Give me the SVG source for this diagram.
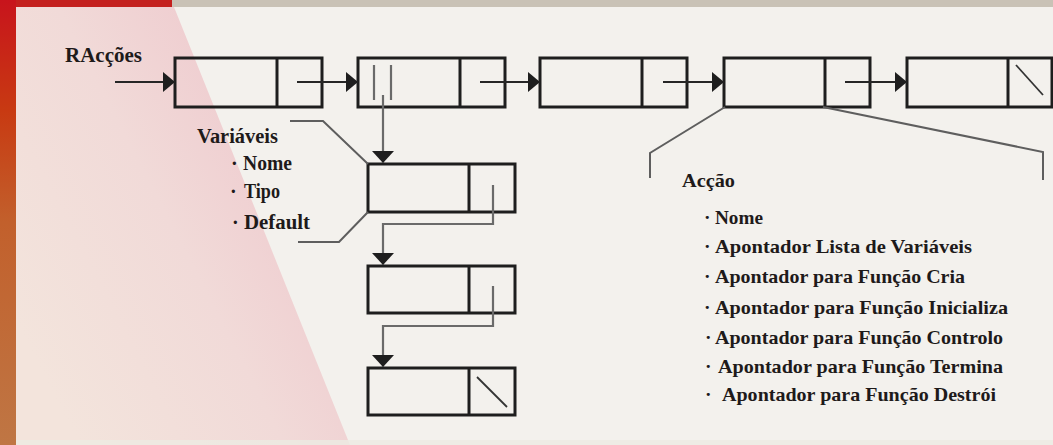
<svg xmlns="http://www.w3.org/2000/svg" width="1053" height="445" viewBox="0 0 1053 445">
  <defs>
    <linearGradient id="sideBar" x1="0" y1="0" x2="0" y2="1">
      <stop offset="0" stop-color="#c8141c"/>
      <stop offset="0.25" stop-color="#c83a12"/>
      <stop offset="0.5" stop-color="#c2602c"/>
      <stop offset="1" stop-color="#bf7644"/>
    </linearGradient>
    <linearGradient id="pinkWedge" gradientUnits="userSpaceOnUse" x1="20" y1="330" x2="290" y2="190">
      <stop offset="0" stop-color="#f3e4dc"/>
      <stop offset="0.6" stop-color="#f1dad8"/>
      <stop offset="1" stop-color="#efcdd0"/>
    </linearGradient>
    <marker id="head" viewBox="0 0 12 20" refX="12" refY="10" markerWidth="12" markerHeight="20" markerUnits="userSpaceOnUse" orient="auto">
      <path d="M0,0 L12,10 L0,20 Z" fill="#1e1e1e"/>
    </marker>
    <marker id="headDown" viewBox="0 0 12 22" refX="12" refY="11" markerWidth="12" markerHeight="22" markerUnits="userSpaceOnUse" orient="auto">
      <path d="M0,0 L12,11 L0,22 Z" fill="#1e1e1e"/>
    </marker>
  </defs>
  <style>
    .cell { fill: none; stroke: #1e1e1e; stroke-width: 3; }
    .link { fill: none; stroke: #262626; stroke-width: 2; }
    .ptr { fill: none; stroke: #6a6a6a; stroke-width: 2.2; }
    .brace { fill: none; stroke: #5e5e5e; stroke-width: 2; }
    .nil { stroke: #333; stroke-width: 1.8; }
    text { font-family: "Liberation Serif", "DejaVu Serif", serif; font-weight: bold; fill: #1e1a1a; }
  </style>

  <!-- backdrop -->
  <rect x="0" y="0" width="1053" height="445" fill="#f3f1ed"/>
  <polygon points="16,7 174,7 350,445 16,445" fill="url(#pinkWedge)"/>
  <rect x="0" y="0" width="1053" height="7" fill="#c9c2b6"/>
  <rect x="0" y="0" width="172" height="7" fill="#c4201e"/>
  <rect x="0" y="0" width="16" height="445" fill="url(#sideBar)"/>
  <rect x="16" y="440" width="1037" height="5" fill="#ecebe2" opacity="0.8"/>

  <!-- main list of actions -->
  <g id="action1">
    <rect class="cell" x="175" y="58" width="147" height="49"/>
    <line class="cell" x1="277" y1="58" x2="277" y2="107"/>
  </g>
  <g id="action2">
    <rect class="cell" x="358" y="58" width="147" height="49"/>
    <line class="cell" x1="460" y1="58" x2="460" y2="107"/>
    <line class="ptr" x1="374" y1="65" x2="374" y2="100"/>
    <line class="ptr" x1="391" y1="65" x2="391" y2="100"/>
  </g>
  <g id="action3">
    <rect class="cell" x="540" y="58" width="147" height="49"/>
    <line class="cell" x1="642" y1="58" x2="642" y2="107"/>
  </g>
  <g id="action4">
    <rect class="cell" x="724" y="58" width="146" height="49"/>
    <line class="cell" x1="825" y1="58" x2="825" y2="107"/>
  </g>
  <g id="action5">
    <rect class="cell" x="907" y="58" width="145" height="49"/>
    <line class="cell" x1="1008" y1="58" x2="1008" y2="107"/>
    <line class="nil" x1="1016" y1="65" x2="1043" y2="95"/>
  </g>

  <!-- variable list -->
  <g id="var1">
    <rect class="cell" x="368" y="164" width="147" height="48"/>
    <line class="cell" x1="469" y1="164" x2="469" y2="212"/>
  </g>
  <g id="var2">
    <rect class="cell" x="368" y="266" width="147" height="47"/>
    <line class="cell" x1="469" y1="266" x2="469" y2="313"/>
  </g>
  <g id="var3">
    <rect class="cell" x="368" y="368" width="147" height="47"/>
    <line class="cell" x1="469" y1="368" x2="469" y2="415"/>
    <line class="nil" x1="477" y1="377" x2="507" y2="407"/>
  </g>

  <!-- connectors -->
  <g id="connectors">
    <line class="link" x1="115" y1="82" x2="175" y2="82" marker-end="url(#head)"/>
    <line class="link" x1="297" y1="82" x2="358" y2="82" marker-end="url(#head)"/>
    <line class="link" x1="480" y1="82" x2="540" y2="82" marker-end="url(#head)"/>
    <line class="link" x1="663" y1="82" x2="724" y2="82" marker-end="url(#head)"/>
    <line class="link" x1="845" y1="82" x2="907" y2="82" marker-end="url(#head)"/>
    <line class="ptr" x1="383" y1="95" x2="383" y2="163" marker-end="url(#headDown)"/>
    <polyline class="ptr" points="493,185 493,224 383,224 383,265" marker-end="url(#headDown)"/>
    <polyline class="ptr" points="493,286 493,326 383,326 383,367" marker-end="url(#headDown)"/>
  </g>

  <!-- brackets grouping the field lists -->
  <g id="var-brace">
    <polyline class="brace" points="290,121 323,121 368,164"/>
    <polyline class="brace" points="368,212 339,242 298,242"/>
  </g>
  <g id="action-brace">
    <polyline class="brace" points="725,107 650,153 650,178"/>
    <polyline class="brace" points="823,107 1043,152 1043,180"/>
  </g>

  <!-- labels -->
  <g id="head-label">
    <text x="65" y="62" font-size="21" textLength="77" lengthAdjust="spacingAndGlyphs">RAcções</text>
  </g>
  <g id="var-fields">
    <text x="197" y="143" font-size="20" textLength="81" lengthAdjust="spacingAndGlyphs">Variáveis</text>
    <text font-size="20"><tspan x="231" y="170">·</tspan><tspan x="243" y="170" textLength="49" lengthAdjust="spacingAndGlyphs">Nome</tspan></text>
    <text font-size="20"><tspan x="230" y="198">·</tspan><tspan x="244" y="198" textLength="36" lengthAdjust="spacingAndGlyphs">Tipo</tspan></text>
    <text font-size="20"><tspan x="232" y="229">·</tspan><tspan x="244" y="229" textLength="66" lengthAdjust="spacingAndGlyphs">Default</tspan></text>
  </g>
  <g id="action-fields">
    <text x="682" y="187" font-size="19.5" textLength="53" lengthAdjust="spacingAndGlyphs">Acção</text>
    <text font-size="19.5"><tspan x="704" y="224">·</tspan><tspan x="715" y="224" textLength="48" lengthAdjust="spacingAndGlyphs">Nome</tspan></text>
    <text font-size="19.5"><tspan x="704" y="253">·</tspan><tspan x="715" y="253" textLength="257" lengthAdjust="spacingAndGlyphs">Apontador Lista de Variáveis</tspan></text>
    <text font-size="19.5"><tspan x="704" y="283">·</tspan><tspan x="715" y="283" textLength="250" lengthAdjust="spacingAndGlyphs">Apontador para Função Cria</tspan></text>
    <text font-size="19.5"><tspan x="704" y="314">·</tspan><tspan x="715" y="314" textLength="293" lengthAdjust="spacingAndGlyphs">Apontador para Função Inicializa</tspan></text>
    <text font-size="19.5"><tspan x="705" y="344">·</tspan><tspan x="715" y="344" textLength="288" lengthAdjust="spacingAndGlyphs">Apontador para Função Controlo</tspan></text>
    <text font-size="19.5"><tspan x="705" y="373">·</tspan><tspan x="718" y="373" textLength="285" lengthAdjust="spacingAndGlyphs">Apontador para Função Termina</tspan></text>
    <text font-size="19.5"><tspan x="705" y="401">·</tspan><tspan x="722" y="401" textLength="274" lengthAdjust="spacingAndGlyphs">Apontador para Função Destrói</tspan></text>
  </g>
</svg>
